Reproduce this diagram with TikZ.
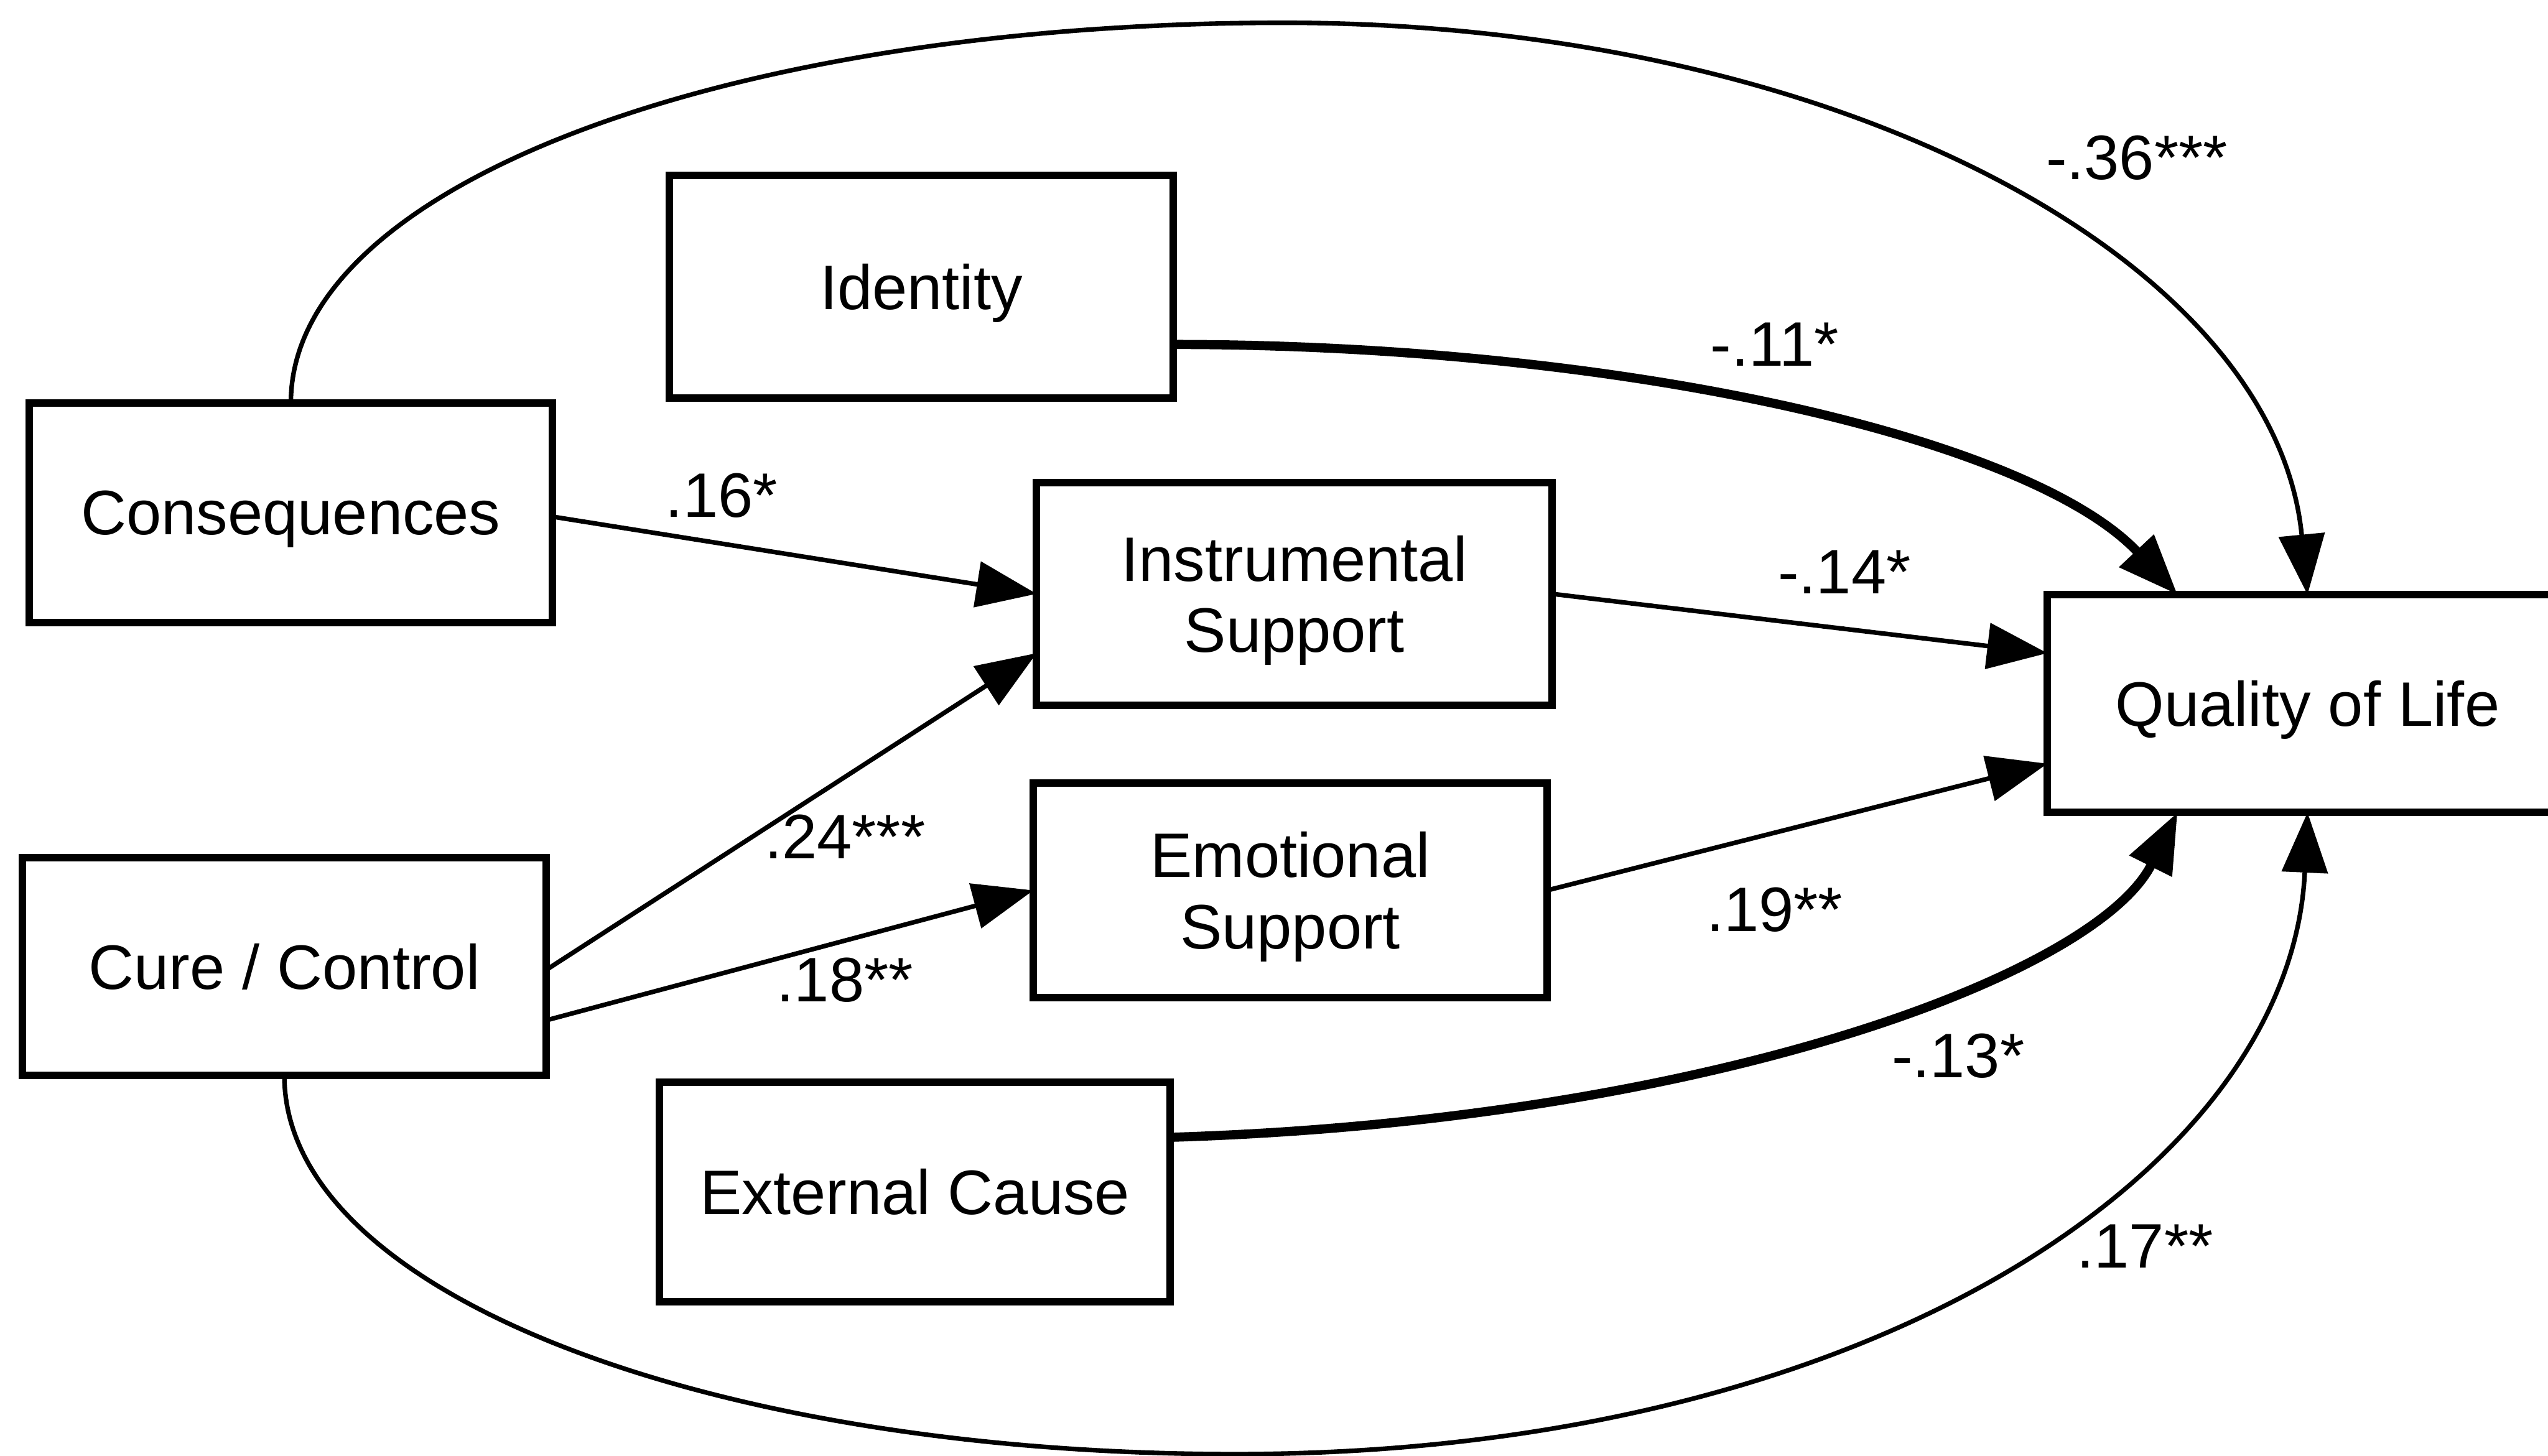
\documentclass[tikz,border=0pt]{standalone}
\usepackage{fontspec}
\setmainfont{Liberation Sans}
\usetikzlibrary{arrows.meta,calc}
\begin{document}
\begin{tikzpicture}[x=0.01cm,y=-0.01cm,
  box/.style={draw,line width=1.3pt,rectangle,inner sep=0pt,outer sep=0pt,
    align=center,text depth=0pt,font=\fontsize{11}{12.5}\selectfont},
  path/.style={line width=0.8pt,-{Triangle[length=3.7mm,width=2.8mm]}},
  heavy/.style={line width=1.6pt,-{Triangle[length=3.7mm,width=2.8mm]}},
  coef/.style={font=\fontsize{11}{12}\selectfont,inner sep=0pt}]
\clip (0,0) rectangle (1568,896);
\useasboundingbox (0,0) rectangle (1568,896);

% variables
\node[box,minimum width=3.10cm,minimum height=1.37cm] (iden) at (567,176.5) {Identity};
\node[box,minimum width=3.22cm,minimum height=1.35cm] (cons) at (179,315.5) {Consequences};
\node[box,minimum width=3.17cm,minimum height=1.37cm] (inst) at (796.5,365.5) {Instrumental\\Support};
\node[box,minimum width=3.20cm,minimum height=1.34cm] (qol)  at (1420,433) {Quality of Life};
\node[box,minimum width=3.16cm,minimum height=1.32cm] (emo)  at (794,548) {Emotional\\Support};
\node[box,minimum width=3.22cm,minimum height=1.34cm] (cure) at (175,595) {Cure / Control};
\node[box,minimum width=3.14cm,minimum height=1.35cm] (ext)  at (563,733.5) {External Cause};

% paths into the support variables
\draw[path] ($(cons.east)+(0,2.5)$) -- (inst.west);
\draw[path] ($(cure.east)+(0,2)$) -- ($(inst.west)+(0,36.5)$);
\draw[path] ($(cure.east)+(0,33)$) -- (emo.west);

% paths into quality of life
\draw[path] (inst.east) -- ($(qol.west)+(0,-31)$);
\draw[path] (emo.east) -- ($(qol.west)+(0,37)$);
\draw[heavy] ($(iden.east)+(0,35.5)$) .. controls (1000,212) and (1250,270) .. ($(qol.north)+(-80,0)$);
\draw[heavy] ($(ext.east)+(0,-33.5)$) .. controls (1050,690) and (1290,600) .. ($(qol.south)+(-80,0)$);

% direct paths around the outside
\draw[path] (cons.north) .. controls +(0,-135) and (450,14) .. (790,14)
  .. controls (1130,14) and (1400,160) .. (qol.north);
\draw[path] (cure.south) .. controls +(0,135) and (439,895) .. (760,895)
  .. controls (1150,895) and (1410,720) .. (qol.south);

% coefficients
\node[coef] (c36) at (1315,97) {-.36***};
\node[coef] (c11) at (1092,212) {-.11*};
\node[coef] (c16) at (444,305) {.16*};
\node[coef] (c14) at (1135,352) {-.14*};
\node[coef] (c24) at (520,515) {.24***};
\node[coef] (c18) at (520,603) {.18**};
\node[coef] (c19) at (1092,560) {.19**};
\node[coef] (c13) at (1205,650) {-.13*};
\node[coef] (c17) at (1320,767) {.17**};
\end{tikzpicture}
\end{document}
